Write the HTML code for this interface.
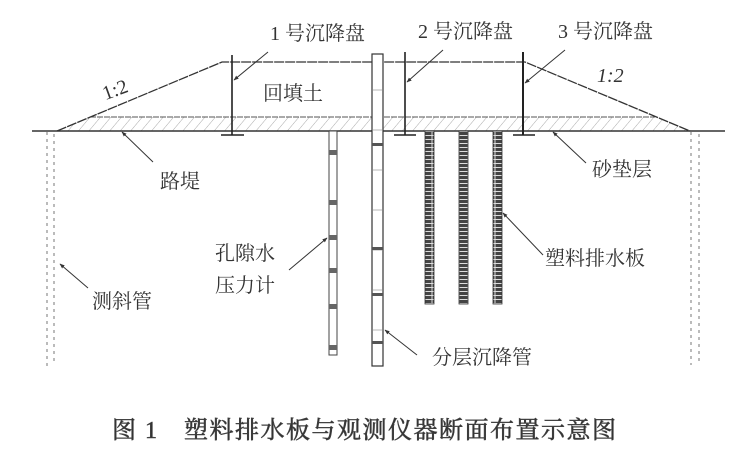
<!DOCTYPE html>
<html><head><meta charset="utf-8"><style>
html,body{margin:0;padding:0;background:#fff;}
svg{display:block;}
text{font-family:"Liberation Serif","Noto Serif CJK SC","Noto Sans CJK SC",serif;fill:#333;}
</style></head><body>
<svg width="730" height="454" viewBox="0 0 730 454" xmlns="http://www.w3.org/2000/svg">
<defs>
<pattern id="hatch" width="8" height="8" patternUnits="userSpaceOnUse" patternTransform="rotate(40)">
<line x1="0" y1="0" x2="0" y2="8" stroke="#aaa" stroke-width="1"/>
</pattern>
<pattern id="drain" width="9" height="4" patternUnits="userSpaceOnUse">
<rect width="9" height="4" fill="#ddd"/><rect x="0.5" y="0" width="8" height="3" fill="#444"/>
</pattern>
<marker id="ar" viewBox="0 0 10 10" refX="9" refY="5" markerWidth="5" markerHeight="5" orient="auto"><path d="M0,1 L10,5 L0,9 z" fill="#333"/></marker>
</defs>
<polygon points="90,117 655,117 690,131 57,131" fill="url(#hatch)"/>
<line x1="90" y1="117" x2="655" y2="117" stroke="#555" stroke-width="1" stroke-dasharray="6,1"/>
<line x1="32" y1="131" x2="725" y2="131" stroke="#333" stroke-width="1.5"/>
<polyline points="57,131 222,62 525,62 690,131" fill="none" stroke="#333" stroke-width="1.3" stroke-dasharray="10,1"/>
<g stroke="#222" stroke-width="1.6">
<line x1="232" y1="55" x2="232" y2="135"/><line x1="221" y1="135" x2="244" y2="135"/>
<line x1="405" y1="52" x2="405" y2="135"/><line x1="394" y1="135" x2="416" y2="135"/>
<line x1="523" y1="52" x2="523" y2="135" stroke-width="2"/><line x1="513" y1="135" x2="535" y2="135"/>
</g>
<rect x="372" y="54" width="11" height="312" fill="#fff" stroke="#333" stroke-width="1.2"/>
<g stroke="#888" stroke-width="0.6">
<line x1="372" y1="90" x2="383" y2="90"/><line x1="372" y1="130" x2="383" y2="130"/><line x1="372" y1="170" x2="383" y2="170"/>
<line x1="372" y1="210" x2="383" y2="210"/><line x1="372" y1="250" x2="383" y2="250"/><line x1="372" y1="290" x2="383" y2="290"/>
<line x1="372" y1="330" x2="383" y2="330"/>
</g>
<g fill="#555"><rect x="372" y="143" width="11" height="3"/><rect x="372" y="247" width="11" height="3"/><rect x="372" y="293" width="11" height="3"/><rect x="372" y="341" width="11" height="3"/></g>
<rect x="329" y="131" width="8" height="224" fill="#fff" stroke="#444" stroke-width="1"/>
<g fill="#666"><rect x="329" y="150" width="8" height="5"/><rect x="329" y="200" width="8" height="5"/><rect x="329" y="235" width="8" height="5"/><rect x="329" y="268" width="8" height="5"/><rect x="329" y="304" width="8" height="5"/><rect x="329" y="345" width="8" height="5"/></g>
<rect x="425" y="131" width="9" height="173" fill="url(#drain)" stroke="#333" stroke-width="0.8"/>
<rect x="459" y="131" width="9" height="173" fill="url(#drain)" stroke="#333" stroke-width="0.8"/>
<rect x="493" y="131" width="9" height="173" fill="url(#drain)" stroke="#333" stroke-width="0.8"/>
<g stroke="#777" stroke-width="1" stroke-dasharray="3,4">
<line x1="47" y1="132" x2="47" y2="367"/><line x1="54" y1="134" x2="54" y2="365"/>
<line x1="691" y1="132" x2="691" y2="365"/><line x1="699" y1="134" x2="699" y2="363"/>
</g>
<g stroke="#333" stroke-width="1" fill="none" marker-end="url(#ar)">
<line x1="268" y1="52" x2="234" y2="80"/>
<line x1="443" y1="50" x2="407" y2="82"/>
<line x1="565" y1="50" x2="525" y2="83"/>
<line x1="153" y1="162" x2="122" y2="132"/>
<line x1="586" y1="163" x2="553" y2="132"/>
<line x1="289" y1="270" x2="327" y2="238"/>
<line x1="88" y1="288" x2="60" y2="264"/>
<line x1="543" y1="255" x2="503" y2="213"/>
<line x1="417" y1="355" x2="385" y2="330"/>
</g>
<g font-size="20">
<text x="270" y="40">1 号沉降盘</text>
<text x="418" y="38">2 号沉降盘</text>
<text x="558" y="38">3 号沉降盘</text>
<text x="263" y="100">回填土</text>
<text x="102" y="98" transform="rotate(-20 110 90)">1:2</text>
<text x="597" y="82" font-style="italic">1:2</text>
<text x="160" y="188">路堤</text>
<text x="592" y="176">砂垫层</text>
<text x="215" y="260">孔隙水</text>
<text x="215" y="292">压力计</text>
<text x="92" y="308">测斜管</text>
<text x="545" y="265">塑料排水板</text>
<text x="432" y="364">分层沉降管</text>
</g>
<text x="112" y="438" font-size="24" letter-spacing="1.5" stroke="#444" stroke-width="0.6" fill="#444">图 1　塑料排水板与观测仪器断面布置示意图</text>
</svg>
</body></html>
